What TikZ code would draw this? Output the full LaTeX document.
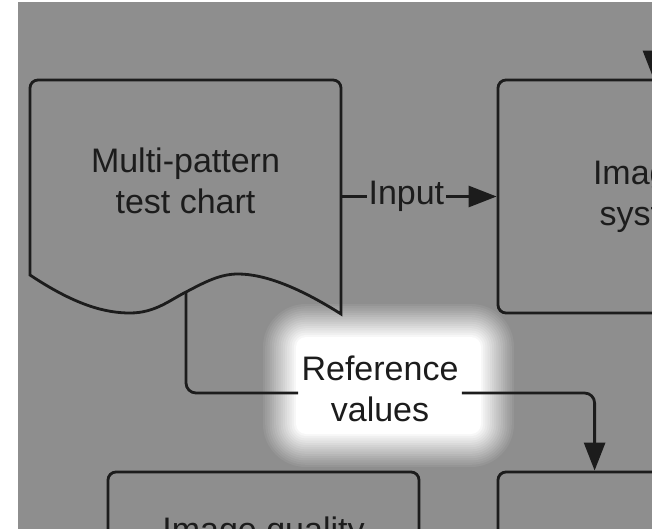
\documentclass[tikz,border=0pt]{standalone}
\usepackage{fontspec}
\setmainfont{Liberation Sans}
\usetikzlibrary{arrows.meta}
\definecolor{bggray}{RGB}{142,142,142}
\definecolor{ink}{RGB}{28,28,28}
\tikzset{
  box/.style={draw=ink,rounded corners=4pt,minimum width=155.5pt,minimum height=116.5pt,
    text=ink,align=center,font=\fontsize{17}{20.5}\selectfont},
  lbl/.style={text=ink,align=center,inner sep=1pt,font=\fontsize{17}{20.5}\selectfont},
  arr/.style={-{Triangle[length=14pt,width=10.5pt]}}
}

\begin{document}
\begin{tikzpicture}[x=0.5pt,y=-0.5pt,line width=1.4pt,color=ink]
\useasboundingbox (0,0) rectangle (652,529);
\fill[white] (0,0) rectangle (652,529);
\fill[bggray] (18,2) rectangle (652,529);
\clip (18,2) rectangle (652,529);

% white glow behind the label
\foreach \k in {1,...,16}{
  \pgfmathsetmacro\grow{2.2*(16-\k)}
  \pgfmathsetmacro\op{1/(17-\k)}
  \pgfmathsetmacro\rc{5+0.5*\grow}
  \fill[white,opacity=\op,rounded corners=\rc pt] (296-\grow,337-\grow) rectangle (481+\grow,434+\grow);
}

% document shape
\draw (341,160) [rounded corners=4pt] -- (341,80) -- (30,80) -- (30,200) [sharp corners] -- (30,275)
  .. controls (75,305) and (105,313) .. (130,313)
  .. controls (155,313) and (170,300) .. (186,292)
  .. controls (205,282) and (220,274) .. (238,274)
  .. controls (265,274) and (300,288) .. (341,314) -- cycle;
\coordinate (wave) at (186,292);
\coordinate (chartout) at (341,196.5);
\coordinate (top) at (653.5,-10);

\node[lbl] (chart) at (185.5,181) {Multi-pattern\\test chart};
\node[box] (imaging) at (653.5,196.5) {Imaging\\system};
\node[box] (quality) at (263.5,588.5) {};
\node[lbl,anchor=north] (qtext) at ([yshift=-21.5pt]quality.north) {Image quality};
\node[box] (result) at (653.5,588.5) {};
\node[lbl] (refval) at (380,389) {Reference\\values};

\draw[arr] (chartout) -- node[lbl,fill=bggray,pos=0.42] (input) {Input} (imaging.west);
\draw[arr] (top) -- (imaging.north);
\draw[rounded corners=5pt] (wave) |- ([yshift=-2pt]refval.west);
\draw[arr,rounded corners=5pt] ([yshift=-2pt]refval.east) -| ([xshift=49pt]result.north west);

\end{tikzpicture}
\end{document}
